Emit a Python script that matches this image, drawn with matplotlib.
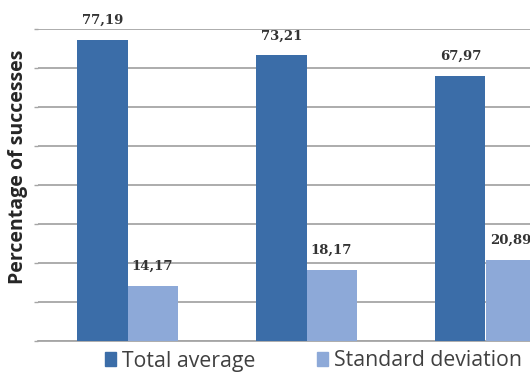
import numpy as np
import matplotlib
matplotlib.use('Agg')
from matplotlib import pyplot as plt
from matplotlib.patches import Patch

W, H = 530, 377

groups = ['1', '2', '3']
total_avg = [77.19, 73.21, 67.97]
std_dev = [14.17, 18.17, 20.89]
series_names = ['Total average', 'Standard deviation']

DARK = '#3B6DA8'
LIGHT = '#8DA9D8'
GRID = '#A6A6A6'
TXT = '#404040'

fig = plt.figure(figsize=(W / 100, H / 100), dpi=100)
# right side of the original chart is cut off, so the axes run past the figure
ax = fig.add_axes([38 / W, 36 / H, 537 / W, 312 / H])

x = np.arange(len(groups))
bw = 0.28
b1 = ax.bar(x - bw / 2, total_avg, bw, color=DARK, zorder=3)
b2 = ax.bar(x + bw / 2, std_dev, bw, color=LIGHT, zorder=3)

for bars, vals in [(b1, total_avg), (b2, std_dev)]:
    for r, v in zip(bars, vals):
        ax.annotate(f'{v:.2f}'.replace('.', ','),
                    (r.get_x() + r.get_width() / 2, r.get_height()),
                    xytext=(0, 14), textcoords='offset points',
                    ha='center', va='center', fontsize=9.5,
                    family='DejaVu Serif', fontweight='bold', color='#333333')

ax.set_xlim(-0.5, 2.5)
ax.set_ylim(0, 80)
ax.set_yticks(np.arange(0, 81, 10))
ax.set_yticklabels([])
ax.set_xticks([])
ax.grid(axis='y', color=GRID, linewidth=1.3, zorder=0)
ax.tick_params(axis='y', length=3, color=GRID, width=1)
for s in ['top', 'right', 'left']:
    ax.spines[s].set_visible(False)
ax.spines['bottom'].set_color(GRID)
ax.spines['bottom'].set_linewidth(1.3)

fig.text(18 / W, 1 - 167 / H, 'Percentage of successes', rotation=90,
         ha='center', va='center', fontsize=14, fontweight='bold',
         family='Open Sans', color='#262626')

handles = [Patch(color=DARK), Patch(color=LIGHT)]
fig.legend(handles, series_names, loc='center', bbox_to_anchor=(313 / W, 1 - 361 / H),
           ncol=2, frameon=False, prop={'family': 'Open Sans', 'size': 15.3},
           handlelength=0.55, handleheight=0.6, handletextpad=0.25,
           columnspacing=2.9, labelcolor=TXT)

fig.savefig('out.png', dpi=100)
